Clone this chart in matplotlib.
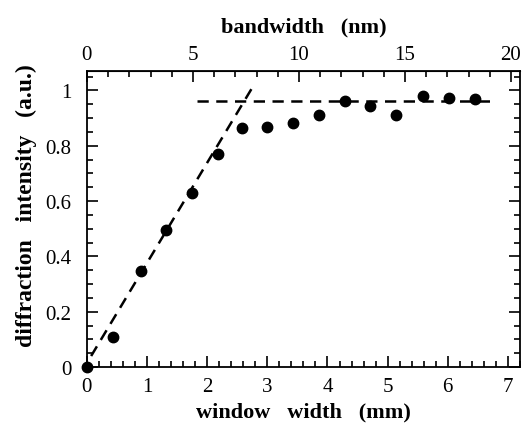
import matplotlib
matplotlib.use("Agg")
import matplotlib.pyplot as plt
from matplotlib.ticker import MultipleLocator, FixedLocator

plt.rcParams['font.family'] = ['Liberation Serif', 'DejaVu Serif']

# measured points: window width (mm) vs diffraction intensity (a.u.)
window_mm = [0.0, 0.43, 0.90, 1.31, 1.75, 2.18, 2.58, 3.00, 3.43, 3.86, 4.29, 4.71, 5.14, 5.59, 6.02, 6.45]
intensity = [0.0, 0.108, 0.347, 0.495, 0.629, 0.770, 0.864, 0.868, 0.882, 0.911, 0.962, 0.944, 0.911, 0.980, 0.973, 0.969]

# guide lines
slope_x = [0.07, 2.75]
slope_y = [0.040, 1.010]
plateau_x = [1.83, 6.79]
plateau_y = [0.962, 0.962]

y_ticks = [0, 0.2, 0.4, 0.6, 0.8, 1.0]
y_labels = ['0', '0.2', '0.4', '0.6', '0.8', '1']
nm_ticks = [0, 5, 10, 15, 20]

MM_TO_NM = 20 / 7.05

fig = plt.figure(figsize=(5.3, 4.31), dpi=100)
ax = fig.add_axes([0.164, 0.146, 0.817, 0.687])

ax.plot(slope_x, slope_y, color='black', lw=1.8, ls=(0, (4.5, 3)))
ax.plot(plateau_x, plateau_y, color='black', lw=1.8, ls=(0, (4.5, 3)))
ax.plot(window_mm, intensity, 'o', color='black', ms=7.5, clip_on=False, zorder=5)

ax.set_xlim(0, 7.2)
ax.set_ylim(0, 1.07)
ax.xaxis.set_major_locator(MultipleLocator(1))
ax.xaxis.set_minor_locator(MultipleLocator(0.2))
ax.yaxis.set_major_locator(FixedLocator(y_ticks))
ax.yaxis.set_minor_locator(MultipleLocator(0.05))
ax.set_yticklabels(y_labels)

ax.tick_params(which='both', direction='in', top=False, right=True, labelsize=15, width=1.2)
ax.tick_params(which='major', length=8)
ax.tick_params(which='minor', length=4)
ax.tick_params(axis='x', which='major', pad=7)
ax.tick_params(axis='y', which='major', pad=11)
for s in ax.spines.values():
    s.set_linewidth(1.3)

ax.set_xlabel('window   width   (mm)', fontsize=16, fontweight='bold', labelpad=4)
ax.set_ylabel('diffraction   intensity   (a.u.)', fontsize=17, fontweight='bold')
ax.yaxis.set_label_coords(-0.115, 0.55)

# top axis: same positions expressed as bandwidth
top = ax.secondary_xaxis('top', functions=(lambda x: x * MM_TO_NM, lambda x: x / MM_TO_NM))
top.xaxis.set_major_locator(FixedLocator(nm_ticks))
top.xaxis.set_minor_locator(MultipleLocator(1))
top.tick_params(which='both', direction='in', labelsize=15, width=1.2)
top.tick_params(which='major', length=8, pad=5)
top.tick_params(which='minor', length=4)
top.set_xlabel('bandwidth   (nm)', fontsize=16, fontweight='bold', labelpad=10)

fig.savefig('out.png', dpi=100)
